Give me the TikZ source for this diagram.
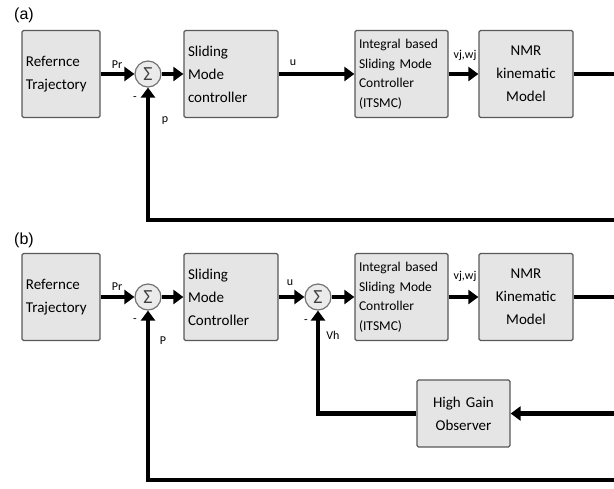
\documentclass[tikz,border=0pt]{standalone}
\usepackage{fontspec}
\setmainfont{Carlito}
\newfontfamily\panelfont{Liberation Sans}
\usetikzlibrary{positioning,calc,arrows.meta}

\begin{document}
\begin{tikzpicture}[
    x=1pt, y=-1pt,
    every node/.style={inner sep=0, font=\fontsize{15}{23}\selectfont},
    block/.style={draw=black!65, fill=black!10, line width=1.3pt,
        rounded corners=1.5pt, minimum height=87pt, inner sep=4pt},
    sumnode/.style={circle, draw=black!55, fill=black!8, line width=1.2pt,
        minimum size=26pt, text=black!75, font=\fontsize{20}{20}\selectfont},
    sig/.style={line width=4.5pt, -{Triangle[length=10pt,width=14pt]}},
    tag/.style={font=\fontsize{12}{12}\selectfont},
    panel/.style={font=\panelfont\fontsize{16}{16}\selectfont}
]
\useasboundingbox (0,0) rectangle (614,488);

% (a)
\node[panel] (labA) at (24,15) {(a)};
\node[block, minimum width=78pt, text width=70pt, align=left] (refA) at (61,74) {Refernce\\Trajectory};
\node[sumnode] (sumA) at (148,74) {Σ};
\node[block, minimum width=94pt, text width=86pt, align=left] (smcA) at (231,74) {Sliding\\Mode\\controller};
\node[block, minimum width=93pt, text width=85pt, align=left,
      font=\fontsize{13.5}{19.5}\selectfont] (itsA) at (401.5,74) {Integral based\\Sliding Mode\\Controller\\(ITSMC)};
\node[block, minimum width=94pt, text width=86pt, align=center] (nmrA) at (526,74) {NMR\\kinematic\\Model};
\coordinate (outA) at (616,74);
\coordinate (fbA) at (616,220);

\draw[sig] (refA) -- (sumA);
\draw[sig] (sumA) -- (smcA);
\draw[sig] (smcA) -- (itsA);
\draw[sig] (itsA) -- (nmrA);
\draw[line width=4.5pt] (nmrA) -- (outA);
\draw[sig] (fbA) -| (sumA);

\node[tag] (prA) at (117,65) {Pr};
\node[tag] (minA) at (135,99) {-};
\node[tag] (pA) at (165,121) {p};
\node[tag] (uA) at (293,63) {u};
\node[tag] (vwA) at (465,55) {vj,wj};

% (b)
\node[panel] (labB) at (24,240) {(b)};
\node[block, minimum width=78pt, text width=70pt, align=left] (refB) at (61,297) {Refernce\\Trajectory};
\node[sumnode] (sumB) at (148,297) {Σ};
\node[block, minimum width=94pt, text width=86pt, align=left] (smcB) at (231,297) {Sliding\\Mode\\Controller};
\node[sumnode] (sumC) at (318,297) {Σ};
\node[block, minimum width=93pt, text width=85pt, align=left,
      font=\fontsize{13.5}{19.5}\selectfont] (itsB) at (401.5,297) {Integral based\\Sliding Mode\\Controller\\(ITSMC)};
\node[block, minimum width=94pt, text width=86pt, align=center] (nmrB) at (526,297) {NMR\\Kinematic\\Model};
\node[block, minimum width=93pt, minimum height=67pt, text width=85pt, align=center] (hgo) at (463.5,413.5) {High Gain\\Observer};
\coordinate (outB) at (616,297);
\coordinate (obsIn) at (616,413.5);
\coordinate (fbB) at (616,480);

\draw[sig] (refB) -- (sumB);
\draw[sig] (sumB) -- (smcB);
\draw[sig] (smcB) -- (sumC);
\draw[sig] (sumC) -- (itsB);
\draw[sig] (itsB) -- (nmrB);
\draw[line width=4.5pt] (nmrB) -- (outB);
\draw[sig] (obsIn) -- (hgo);
\draw[sig] (hgo) -| (sumC);
\draw[sig] (fbB) -| (sumB);

\node[tag] (prB) at (117,287) {Pr};
\node[tag] (minB) at (135,321) {-};
\node[tag] (pB) at (163,341) {P};
\node[tag] (uB) at (290,283) {u};
\node[tag] (minC) at (306,322) {-};
\node[tag] (vhB) at (333,335) {Vh};
\node[tag] (vwB) at (465,276) {vj,wj};
\end{tikzpicture}
\end{document}
